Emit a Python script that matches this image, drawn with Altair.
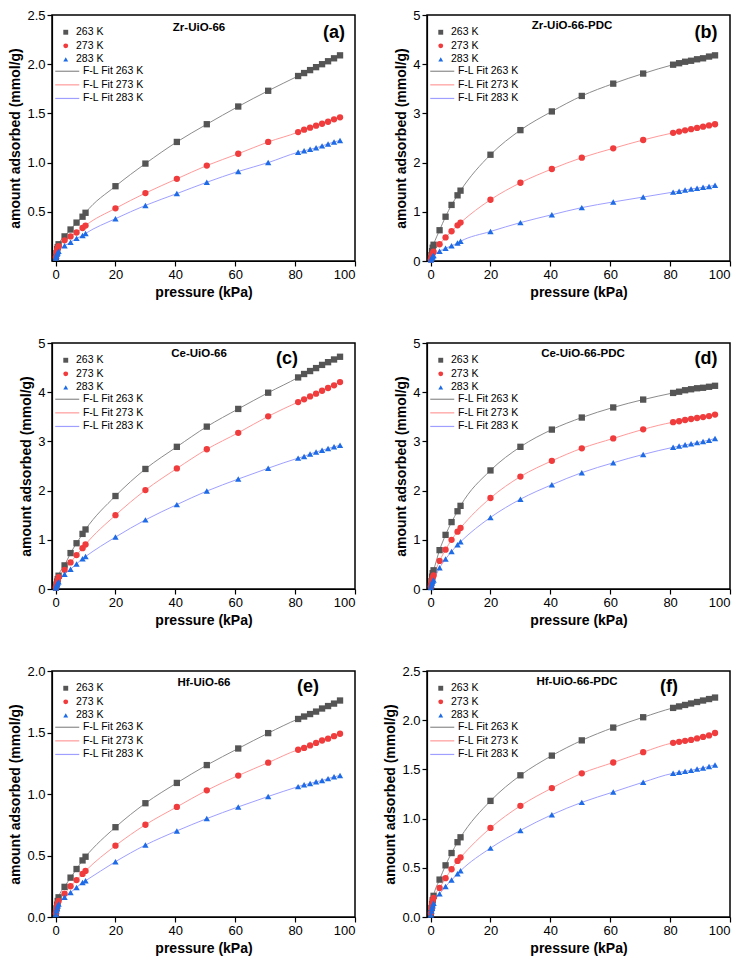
import altair as alt
import pandas as pd

pressure = [0.1, 0.3, 0.5, 0.7, 1, 3, 5, 7, 9, 10, 20, 30, 40.5, 50.5, 61, 71,
            81, 83, 85, 87, 89, 91, 93, 95]

temps = ["263 K", "273 K", "283 K"]
fits = ["F-L Fit 263 K", "F-L Fit 273 K", "F-L Fit 283 K"]

# (a) Zr-UiO-66
zr_263 = [0.04, 0.08, 0.12, 0.14, 0.17, 0.25, 0.32, 0.39, 0.45, 0.49, 0.76, 0.99, 1.21, 1.39, 1.57, 1.73, 1.88, 1.91, 1.94, 1.97, 2.00, 2.03, 2.06, 2.09]
zr_273 = [0.04, 0.08, 0.11, 0.13, 0.15, 0.21, 0.25, 0.29, 0.335, 0.36, 0.535, 0.69, 0.835, 0.97, 1.09, 1.21, 1.31, 1.335, 1.355, 1.375, 1.395, 1.415, 1.44, 1.46]
zr_283 = [0.03, 0.05, 0.07, 0.085, 0.10, 0.155, 0.19, 0.23, 0.26, 0.28, 0.43, 0.565, 0.685, 0.80, 0.91, 1.00, 1.105, 1.12, 1.135, 1.15, 1.17, 1.19, 1.21, 1.225]
# (b) Zr-UiO-66-PDC
zrp_263 = [0.05, 0.12, 0.20, 0.27, 0.33, 0.625, 0.90, 1.14, 1.335, 1.43, 2.16, 2.66, 3.04, 3.355, 3.605, 3.81, 3.99, 4.02, 4.05, 4.07, 4.10, 4.12, 4.155, 4.18]
zrp_273 = [0.03, 0.08, 0.12, 0.16, 0.19, 0.34, 0.48, 0.605, 0.725, 0.78, 1.245, 1.59, 1.87, 2.10, 2.29, 2.46, 2.605, 2.63, 2.655, 2.68, 2.705, 2.73, 2.755, 2.78]
zrp_283 = [0.02, 0.05, 0.07, 0.09, 0.11, 0.20, 0.26, 0.31, 0.365, 0.40, 0.60, 0.78, 0.94, 1.085, 1.20, 1.30, 1.40, 1.42, 1.445, 1.465, 1.48, 1.50, 1.515, 1.54]
# (c) Ce-UiO-66
ce_263 = [0.03, 0.09, 0.15, 0.20, 0.27, 0.48, 0.73, 0.93, 1.12, 1.21, 1.89, 2.44, 2.89, 3.30, 3.66, 3.99, 4.30, 4.37, 4.43, 4.49, 4.555, 4.61, 4.665, 4.72]
ce_273 = [0.03, 0.08, 0.12, 0.18, 0.24, 0.39, 0.54, 0.69, 0.83, 0.905, 1.50, 2.01, 2.45, 2.84, 3.175, 3.51, 3.80, 3.855, 3.915, 3.97, 4.03, 4.085, 4.14, 4.205]
ce_283 = [0.02, 0.06, 0.09, 0.12, 0.145, 0.30, 0.40, 0.51, 0.615, 0.66, 1.055, 1.405, 1.715, 1.99, 2.235, 2.455, 2.66, 2.695, 2.745, 2.785, 2.82, 2.855, 2.89, 2.92]
# (d) Ce-UiO-66-PDC
cep_263 = [0.06, 0.16, 0.25, 0.32, 0.38, 0.79, 1.10, 1.36, 1.58, 1.69, 2.41, 2.89, 3.24, 3.485, 3.69, 3.85, 3.985, 4.01, 4.04, 4.06, 4.08, 4.09, 4.11, 4.13]
cep_273 = [0.05, 0.12, 0.18, 0.23, 0.275, 0.57, 0.80, 1.00, 1.165, 1.24, 1.85, 2.285, 2.605, 2.86, 3.06, 3.245, 3.39, 3.41, 3.435, 3.455, 3.475, 3.495, 3.515, 3.545]
cep_283 = [0.03, 0.08, 0.12, 0.155, 0.185, 0.43, 0.61, 0.76, 0.90, 0.96, 1.455, 1.825, 2.12, 2.365, 2.565, 2.735, 2.88, 2.905, 2.93, 2.95, 2.975, 3.00, 3.025, 3.06]
# (e) Hf-UiO-66
hf_263 = [0.03, 0.07, 0.10, 0.13, 0.16, 0.245, 0.32, 0.39, 0.46, 0.49, 0.73, 0.925, 1.09, 1.235, 1.37, 1.495, 1.61, 1.63, 1.65, 1.67, 1.695, 1.715, 1.735, 1.76]
hf_273 = [0.03, 0.06, 0.09, 0.11, 0.13, 0.19, 0.25, 0.30, 0.35, 0.375, 0.58, 0.75, 0.895, 1.03, 1.15, 1.255, 1.36, 1.375, 1.395, 1.415, 1.435, 1.45, 1.47, 1.49]
hf_283 = [0.02, 0.05, 0.07, 0.09, 0.105, 0.16, 0.20, 0.24, 0.28, 0.295, 0.45, 0.585, 0.70, 0.80, 0.895, 0.98, 1.06, 1.075, 1.085, 1.10, 1.11, 1.125, 1.14, 1.15]
# (f) Hf-UiO-66-PDC
hfp_263 = [0.04, 0.09, 0.13, 0.17, 0.215, 0.38, 0.525, 0.65, 0.76, 0.81, 1.18, 1.44, 1.64, 1.795, 1.925, 2.03, 2.125, 2.14, 2.155, 2.17, 2.185, 2.20, 2.215, 2.23]
hfp_273 = [0.04, 0.09, 0.13, 0.165, 0.195, 0.295, 0.395, 0.485, 0.57, 0.605, 0.905, 1.13, 1.31, 1.46, 1.57, 1.675, 1.77, 1.78, 1.79, 1.80, 1.815, 1.83, 1.845, 1.87]
hfp_283 = [0.02, 0.06, 0.09, 0.115, 0.14, 0.235, 0.31, 0.375, 0.44, 0.47, 0.70, 0.88, 1.04, 1.165, 1.27, 1.37, 1.46, 1.47, 1.48, 1.49, 1.505, 1.515, 1.53, 1.545]

panel_names = ["Zr-UiO-66", "Zr-UiO-66-PDC", "Ce-UiO-66", "Ce-UiO-66-PDC", "Hf-UiO-66", "Hf-UiO-66-PDC"]
panel_letters = ["(a)", "(b)", "(c)", "(d)", "(e)", "(f)"]
panel_series = [
    (zr_263, zr_273, zr_283), (zrp_263, zrp_273, zrp_283),
    (ce_263, ce_273, ce_283), (cep_263, cep_273, cep_283),
    (hf_263, hf_273, hf_283), (hfp_263, hfp_273, hfp_283),
]
y_ticks = [
    [0.5, 1.0, 1.5, 2.0, 2.5], [0, 1, 2, 3, 4, 5],
    [0, 1, 2, 3, 4, 5], [0, 1, 2, 3, 4, 5],
    [0.0, 0.5, 1.0, 1.5, 2.0], [0.0, 0.5, 1.0, 1.5, 2.0, 2.5],
]
y_max = [2.5, 5, 5, 5, 2.0, 2.5]
y_fmt = [".1f", "d", "d", "d", ".1f", ".1f"]
x_ticks = [0, 20, 40, 60, 80, 100]

# layout (pixels)
W, H = 303, 246
name_x = [147, 145, 147, 156, 152, 150]
name_y = [13, 11, 11, 11, 12, 11]
letter_x = [W - 21, W - 24, W - 68, W - 24, W - 47, W - 61]
letter_y = [18, 18, 16, 16, 16, 16]

pt_colors = ["#555555", "#f03c3c", "#1e6be6"]
fit_colors = ["#8c8c8c", "#ff9a9a", "#9f9fff"]
FONT = "Liberation Sans"

pt_legend = dict(title=None, orient="none", legendX=3, legendY=12, padding=0,
                 rowPadding=2.6, labelFontSize=10.5, labelFont=FONT, labelColor="black",
                 symbolSize=24, symbolOffset=5.5, labelOffset=5)
fit_legend = dict(title=None, orient="none", legendX=3, legendY=51, padding=0,
                  rowPadding=2.6, labelFontSize=10.5, labelFont=FONT, labelColor="black",
                  symbolType="M-4,0H4", symbolSize=36, symbolStrokeWidth=1.2,
                  symbolOffset=7, labelOffset=10.4)


def make_panel(i):
    rows = []
    for t, f, vals in zip(temps, fits, panel_series[i]):
        for p, v in zip(pressure, vals):
            rows.append({"pressure": p, "amount": v, "series": t, "fit": f})
    df = pd.DataFrame(rows)
    x = alt.X("pressure:Q", scale=alt.Scale(domain=[-1.2, 100], nice=False),
              axis=alt.Axis(values=x_ticks, title="pressure (kPa)", grid=False))
    y = alt.Y("amount:Q", scale=alt.Scale(domain=[0, y_max[i]], nice=False),
              axis=alt.Axis(values=y_ticks[i], format=y_fmt[i], grid=False,
                            title="amount adsorbed (mmol/g)"))
    base = alt.Chart(df)
    lines = base.mark_line(strokeWidth=1, interpolate="monotone").encode(
        x=x, y=y,
        stroke=alt.Stroke("fit:N", scale=alt.Scale(domain=fits, range=fit_colors),
                          legend=alt.Legend(**fit_legend)),
    )
    points = base.mark_point(filled=True, size=40, opacity=1).encode(
        x=x, y=y,
        color=alt.Color("series:N", scale=alt.Scale(domain=temps, range=pt_colors),
                        legend=alt.Legend(**pt_legend)),
        shape=alt.Shape("series:N", scale=alt.Scale(domain=temps,
                                                    range=["square", "circle", "triangle-up"]),
                        legend=alt.Legend(**pt_legend)),
    )
    name = alt.Chart(pd.DataFrame({"t": [panel_names[i]]})).mark_text(
        font=FONT, fontWeight="bold", fontSize=11.5, color="black", align="center", baseline="middle"
    ).encode(x=alt.value(name_x[i]), y=alt.value(name_y[i]), text="t:N")
    letter = alt.Chart(pd.DataFrame({"t": [panel_letters[i]]})).mark_text(
        font=FONT, fontWeight="bold", fontSize=18, color="black", align="center", baseline="middle"
    ).encode(x=alt.value(letter_x[i]), y=alt.value(letter_y[i]), text="t:N")
    return alt.layer(lines, points, name, letter).properties(width=W, height=H)


panels = [make_panel(i) for i in range(6)]
chart = alt.concat(*panels, columns=2, spacing={"row": 36, "column": 26}).resolve_scale(
    color="independent", shape="independent", stroke="independent"
).resolve_legend(
    color="independent", shape="independent", stroke="independent"
).properties(
    padding={"left": 0, "right": 0, "top": 0, "bottom": 0}
).configure(background="white").configure_view(
    stroke="black", strokeWidth=1.5
).configure_axis(
    grid=False, labelFont=FONT, titleFont=FONT, labelFontSize=13, titleFontSize=14,
    titleFontWeight="bold", labelColor="black", titleColor="black", domainColor="black",
    tickColor="black", tickSize=5, domainWidth=1.2, tickWidth=1.2, labelPadding=2,
    titlePadding=4
)

chart.save("out.html", embed_options={"renderer": "svg", "actions": False})
